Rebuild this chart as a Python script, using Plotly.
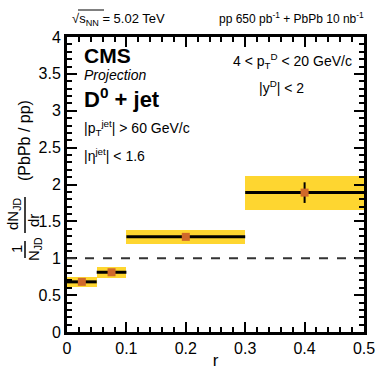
import plotly.graph_objects as go

# bins in r
bin_lo = [0.0, 0.05, 0.1, 0.3]
bin_hi = [0.05, 0.1, 0.3, 0.5]
ratio = [0.68, 0.81, 1.29, 1.89]
stat_err = [0.02, 0.02, 0.02, 0.14]
sys_err = [0.068, 0.072, 0.09, 0.23]

x_ticks = [0, 0.1, 0.2, 0.3, 0.4, 0.5]
y_ticks = [0, 0.5, 1, 1.5, 2, 2.5, 3, 3.5, 4]

FONT = "Liberation Sans, Arial, Helvetica, sans-serif"
W, H = 379, 370
L, R, T, B = 67, 15, 37, 38


def px(x):
    return (x - L) / (W - L - R)


def py(y):
    return (H - B - y) / (H - T - B)


centers = [(a + b) / 2 for a, b in zip(bin_lo, bin_hi)]
widths = [b - a for a, b in zip(bin_lo, bin_hi)]

fig = go.Figure()

# systematic boxes
fig.add_trace(go.Bar(
    x=centers, y=[2 * s for s in sys_err],
    base=[v - s for v, s in zip(ratio, sys_err)],
    width=widths, marker=dict(color="#fed630", line=dict(width=0)),
    showlegend=False, hoverinfo="skip",
))

# points with bin width + stat errors
fig.add_trace(go.Scatter(
    x=centers, y=ratio, mode="markers",
    marker=dict(symbol="square", size=8, color="#d0692a"),
    error_x=dict(type="data", array=[w / 2 for w in widths], color="black", thickness=3, width=0),
    error_y=dict(type="data", array=stat_err, color="black", thickness=2, width=0),
    showlegend=False,
))

fig.add_shape(type="line", x0=0, x1=0.5, y0=1, y1=1, xref="x", yref="y",
              line=dict(color="#333333", width=2, dash="dash"))

axis_common = dict(
    showgrid=False, zeroline=False, showline=True, linecolor="black", linewidth=3,
    mirror="allticks", ticks="inside", ticklen=10, tickwidth=2, tickcolor="black",
    tickfont=dict(family=FONT, size=16, color="black"),
)

fig.update_xaxes(range=[0, 0.5], tickvals=x_ticks, ticktext=[f"{v:g}" for v in x_ticks],
                 minor=dict(dtick=0.02, ticks="inside", ticklen=5, tickwidth=2, tickcolor="black"),
                 title=dict(text="r", font=dict(family=FONT, size=17, color="black"), standoff=0),
                 **axis_common)
fig.update_yaxes(range=[0, 4], tickvals=y_ticks, ticktext=[f"{v:g}" for v in y_ticks],
                 minor=dict(dtick=0.1, ticks="inside", ticklen=5, tickwidth=2, tickcolor="black"),
                 **axis_common)


def note(text, x, y, size=13, xanchor="left", angle=0):
    fig.add_annotation(text=text, x=px(x), y=py(y), xref="paper", yref="paper",
                       xanchor=xanchor, yanchor="middle", showarrow=False, textangle=angle,
                       font=dict(family=FONT, size=size, color="black"))


def rule(x0, y0, x1, y1, w=1.5):
    fig.add_shape(type="line", xref="paper", yref="paper", x0=px(x0), x1=px(x1), y0=py(y0), y1=py(y1),
                  line=dict(color="black", width=w))


note("√s<sub>NN</sub> = 5.02 TeV", 70, 19, size=13)
rule(78, 10, 104, 10, 1)
note("pp 650 pb<sup>-1</sup> + PbPb 10 nb<sup>-1</sup>", 366, 18, size=12, xanchor="right")
note("<b>CMS</b>", 82, 55, size=21)
note("<i>Projection</i>", 82, 75, size=14)
note("<b>D<sup>0</sup> + jet</b>", 82, 98, size=22)
note("|p<sub>T</sub><sup>jet</sup>| > 60 GeV/c", 82, 128, size=14)
note("|η<sup>jet</sup>| < 1.6", 82, 155, size=14)
note("4 < p<sub>T</sub><sup>D</sup> < 20 GeV/c", 354, 61, size=14, xanchor="right")
note("|y<sup>D</sup>| < 2", 257, 87, size=14)

# y-axis title built from rotated pieces
note("1", 16, 249, size=15, xanchor="center", angle=-90)
note("N<sub>JD</sub>", 34, 249, size=15, xanchor="center", angle=-90)
note("dN<sub>JD</sub>", 13, 214, size=15, xanchor="center", angle=-90)
note("dr", 34, 221, size=15, xanchor="center", angle=-90)
note("(PbPb / pp)", 24, 141, size=16, xanchor="center", angle=-90)
rule(25, 241, 25, 258)
rule(25, 197, 25, 233)

fig.update_layout(
    width=W, height=H, margin=dict(l=L, r=R, t=T, b=B, autoexpand=False),
    plot_bgcolor="white", paper_bgcolor="white", bargap=0,
    font=dict(family=FONT, color="black"),
)

fig.write_html("out.html", config={"displayModeBar": False},
               post_script="document.body.style.margin='0';")
